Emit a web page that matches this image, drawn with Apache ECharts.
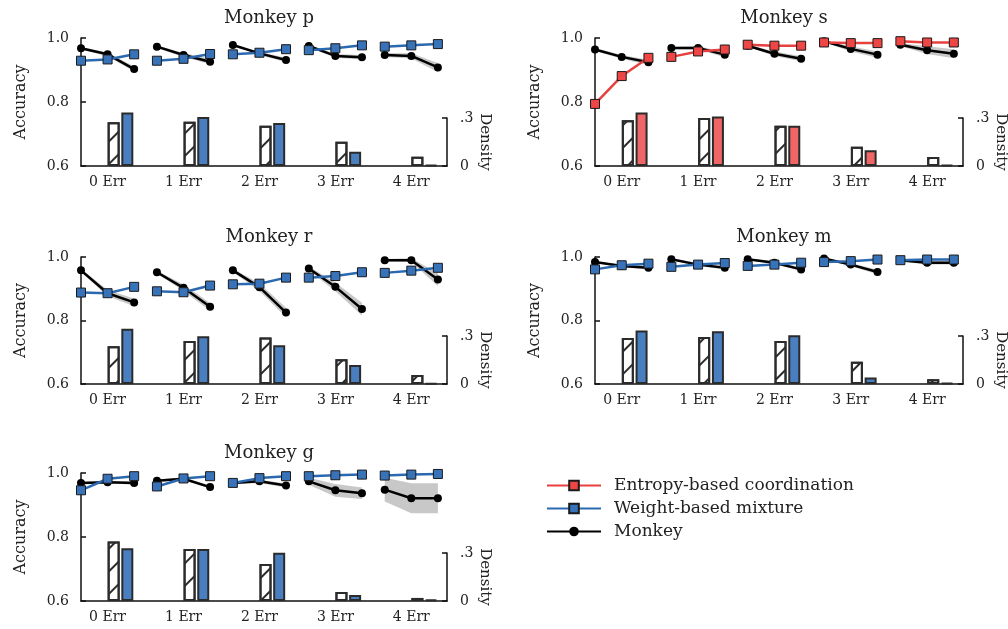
<!DOCTYPE html>
<html><head><meta charset="utf-8">
<script src="https://cdn.jsdelivr.net/npm/echarts@6/dist/echarts.min.js"></script>
<style>html,body{margin:0;padding:0;background:#fff}#c{width:1008px;height:629px}</style>
</head><body><div id="c"></div>
<script>
// ---------- data ----------
const panelNames = ['p', 's', 'r', 'm', 'g'];
const errLabels = ['0 Err', '1 Err', '2 Err', '3 Err', '4 Err'];
const seriesNames = ['Entropy-based coordination', 'Weight-based mixture', 'Monkey'];

// accuracy: 3 points per error group (5 groups)
const monkeyAcc_p = [0.968,0.949,0.903, 0.973,0.947,0.926, 0.978,0.952,0.931, 0.975,0.944,0.940, 0.947,0.944,0.908];
const modelAcc_p  = [0.929,0.933,0.949, 0.929,0.935,0.950, 0.949,0.954,0.965, 0.962,0.968,0.977, 0.973,0.977,0.981];
const monkeyErr_p = [0.004,0.006,0.008, 0.004,0.006,0.008, 0.003,0.005,0.007, 0.003,0.006,0.007, 0.006,0.008,0.014];
const monkeyDen_p = [0.273,0.277,0.252,0.151,0.058];
const modelDen_p  = [0.335,0.306,0.269,0.089,0.006];

const monkeyAcc_s = [0.964,0.941,0.924, 0.969,0.969,0.948, 0.976,0.951,0.935, 0.990,0.966,0.948, 0.979,0.962,0.951];
const modelAcc_s  = [0.794,0.881,0.938, 0.941,0.958,0.964, 0.979,0.976,0.976, 0.986,0.984,0.984, 0.990,0.986,0.986];
const monkeyErr_s = [0.005,0.006,0.008, 0.004,0.005,0.008, 0.004,0.007,0.008, 0.003,0.008,0.010, 0.005,0.012,0.014];
const monkeyDen_s = [0.286,0.300,0.252,0.120,0.056];
const modelDen_s  = [0.335,0.310,0.252,0.099,0.006];

const monkeyAcc_r = [0.958,0.886,0.857, 0.952,0.903,0.843, 0.958,0.905,0.825, 0.964,0.906,0.836, 0.990,0.990,0.929];
const modelAcc_r  = [0.888,0.886,0.906, 0.892,0.889,0.910, 0.914,0.916,0.935, 0.935,0.940,0.952, 0.950,0.957,0.966];
const monkeyErr_r = [0.005,0.010,0.012, 0.005,0.010,0.012, 0.005,0.012,0.015, 0.006,0.014,0.020, 0.004,0.006,0.020];
const monkeyDen_r = [0.236,0.269,0.290,0.155,0.056];
const modelDen_r  = [0.346,0.298,0.242,0.118,0.004];

const monkeyAcc_m = [0.984,0.972,0.966, 0.993,0.976,0.966, 0.993,0.982,0.961, 0.995,0.976,0.953, 0.990,0.982,0.982];
const modelAcc_m  = [0.961,0.974,0.979, 0.969,0.976,0.981, 0.972,0.976,0.982, 0.984,0.987,0.992, 0.990,0.992,0.992];
const monkeyErr_m = [0.003,0.004,0.005, 0.003,0.004,0.005, 0.003,0.004,0.006, 0.003,0.005,0.007, 0.004,0.006,0.006];
const monkeyDen_m = [0.288,0.294,0.269,0.139,0.029];
const modelDen_m  = [0.335,0.329,0.304,0.041,0.006];

const monkeyAcc_g = [0.969,0.971,0.969, 0.976,0.982,0.956, 0.969,0.974,0.961, 0.974,0.946,0.937, 0.948,0.921,0.921];
const modelAcc_g  = [0.946,0.982,0.990, 0.958,0.983,0.990, 0.969,0.984,0.990, 0.990,0.993,0.995, 0.992,0.995,0.997];
const monkeyErr_g = [0.004,0.004,0.005, 0.004,0.004,0.005, 0.004,0.005,0.006, 0.011,0.020,0.018, 0.037,0.047,0.047];
const monkeyDen_g = [0.372,0.325,0.232,0.056,0.019];
const modelDen_g  = [0.329,0.325,0.302,0.037,0.008];

const panelData = {
  p: {mAcc: monkeyAcc_p, oAcc: modelAcc_p, mErr: monkeyErr_p, mDen: monkeyDen_p, oDen: modelDen_p, model: 1},
  s: {mAcc: monkeyAcc_s, oAcc: modelAcc_s, mErr: monkeyErr_s, mDen: monkeyDen_s, oDen: modelDen_s, model: 0},
  r: {mAcc: monkeyAcc_r, oAcc: modelAcc_r, mErr: monkeyErr_r, mDen: monkeyDen_r, oDen: modelDen_r, model: 1},
  m: {mAcc: monkeyAcc_m, oAcc: modelAcc_m, mErr: monkeyErr_m, mDen: monkeyDen_m, oDen: modelDen_m, model: 1},
  g: {mAcc: monkeyAcc_g, oAcc: modelAcc_g, mErr: monkeyErr_g, mDen: monkeyDen_g, oDen: modelDen_g, model: 1}
};

// ---------- layout / style ----------
const layout = [
  {left: 81,  top: 38,  width: 366, height: 128},
  {left: 595, top: 38,  width: 368, height: 128},
  {left: 81,  top: 257, width: 366, height: 127},
  {left: 595, top: 257, width: 368, height: 127},
  {left: 81,  top: 473, width: 366, height: 128}
];
const DEN_H = 48;
const X_MAX = 4.82;
const POINT_STEP = 0.35;
const LABEL_OFF = 0.35;
const BAR_OFF = [0.43, 0.61];
const FONT = 'DejaVu Serif';
const TXT = '#222';
const AX = '#111';
const modelStyle = [
  {line: '#e8403f', marker: '#ee4545', bar: '#f06565'},
  {line: '#2a69b0', marker: '#3873ba', bar: '#4a7fbf'}
];
const HATCH = {symbol: 'rect', symbolSize: 1, color: '#2b2b2b', dashArrayX: [1, 0], dashArrayY: [2, 14], rotation: -Math.PI / 4};

const grid = [], xAxis = [], yAxis = [], series = [], title = [];

panelNames.forEach((pn, i) => {
  const L = layout[i];
  const d = panelData[pn];
  const ms = modelStyle[d.model];
  const ga = 2 * i, gd = 2 * i + 1;
  grid.push({left: L.left, top: L.top, width: L.width, height: L.height, outerBoundsMode: 'none', containLabel: false});
  grid.push({left: L.left, top: L.top + L.height - DEN_H, width: L.width, height: DEN_H, outerBoundsMode: 'none', containLabel: false});

  title.push({text: 'Monkey ' + pn, left: L.left + L.width / 2, top: L.top - 34, textAlign: 'center',
    textStyle: {fontFamily: FONT, fontSize: 18, fontWeight: 'normal', color: TXT}});

  xAxis.push({gridIndex: ga, type: 'value', min: 0, max: X_MAX,
    axisLine: {show: true, onZero: false, lineStyle: {color: AX, width: 1.5}},
    axisTick: {show: false}, splitLine: {show: false},
    axisLabel: {customValues: errLabels.map((_, g) => g + LABEL_OFF),
      formatter: v => errLabels[Math.round(v - LABEL_OFF)],
      fontFamily: FONT, fontSize: 14, color: TXT, margin: 9}});
  xAxis.push({gridIndex: gd, type: 'value', min: 0, max: X_MAX, show: false});

  yAxis.push({gridIndex: ga, type: 'value', min: 0.6, max: 1.0, interval: 0.2, position: 'left',
    name: 'Accuracy', nameLocation: 'middle', nameGap: 52, nameMoveOverlap: false,
    nameTextStyle: {fontFamily: FONT, fontSize: 16, color: TXT},
    axisLine: {show: true, onZero: false, lineStyle: {color: AX, width: 1.5}},
    axisTick: {show: true, inside: true, length: 5, lineStyle: {color: AX, width: 1.5}},
    axisLabel: {formatter: v => v.toFixed(1), fontFamily: FONT, fontSize: 14, color: TXT, margin: 12},
    splitLine: {show: false}});
  yAxis.push({gridIndex: gd, type: 'value', min: 0, max: 0.3, interval: 0.3, position: 'right',
    name: 'Density', nameLocation: 'middle', nameRotate: -90, nameGap: 30, nameMoveOverlap: false,
    nameTextStyle: {fontFamily: FONT, fontSize: 15, color: TXT},
    axisLine: {show: true, onZero: false, lineStyle: {color: AX, width: 1.5}},
    axisTick: {show: true, inside: true, length: 5, lineStyle: {color: AX, width: 1.5}},
    axisLabel: {formatter: v => v === 0 ? '0' : String(v).replace(/^0/, ''), fontFamily: FONT, fontSize: 14, color: TXT, margin: 13},
    splitLine: {show: false}});

  // confidence band for monkey
  series.push({type: 'custom', name: 'band ' + pn, xAxisIndex: ga, yAxisIndex: ga, z: 1, silent: true,
    data: errLabels.map((_, g) => [g]),
    renderItem: (params, api) => {
      const g = api.value(0);
      const up = [], lo = [];
      for (let j = 0; j < 3; j++) {
        const k = g * 3 + j, x = g + POINT_STEP * j;
        up.push(api.coord([x, d.mAcc[k] + d.mErr[k]]));
        lo.push(api.coord([x, d.mAcc[k] - d.mErr[k]]));
      }
      return {type: 'polygon', shape: {points: up.concat(lo.reverse())}, style: {fill: '#c8c8c8'}};
    }});

  // density bars (monkey hatched, model coloured)
  series.push({type: 'bar', name: 'density ' + pn, xAxisIndex: gd, yAxisIndex: gd, barWidth: 12, clip: false, z: 2,
    itemStyle: {borderColor: '#2b2b2b', borderWidth: 2},
    data: d.mDen.map((v, g) => ({value: [g + BAR_OFF[0], v], itemStyle: {color: '#ffffff', decal: HATCH}}))
      .concat(d.oDen.map((v, g) => ({value: [g + BAR_OFF[1], v], itemStyle: {color: ms.bar}})))});

  // lines per error group
  errLabels.forEach((_, g) => {
    const idx = [0, 1, 2];
    series.push({type: 'line', name: 'Monkey', xAxisIndex: ga, yAxisIndex: ga, z: 4,
      data: idx.map(j => [g + POINT_STEP * j, d.mAcc[g * 3 + j]]),
      symbol: 'circle', symbolSize: 8,
      lineStyle: {color: '#000', width: 2.5},
      itemStyle: {color: '#000'}});
    series.push({type: 'line', name: seriesNames[d.model], xAxisIndex: ga, yAxisIndex: ga, z: 5,
      data: idx.map(j => [g + POINT_STEP * j, d.oAcc[g * 3 + j]]),
      symbol: 'rect', symbolSize: 9,
      lineStyle: {color: ms.line, width: 2.5},
      itemStyle: {color: ms.marker, borderColor: '#1a1a1a', borderWidth: 1}});
  });
});

const chart = echarts.init(document.getElementById('c'), null, {renderer: 'canvas'});
chart.setOption({
  animation: false,
  backgroundColor: '#fff',
  title, grid, xAxis, yAxis, series,
  legend: {data: seriesNames, orient: 'vertical', left: 541, top: 472, itemWidth: 54, itemHeight: 12, itemGap: 6,
    selectedMode: false,
    textStyle: {fontFamily: FONT, fontSize: 17, color: TXT, padding: [0, 0, 0, 8]}}
});
</script>
</body></html>
